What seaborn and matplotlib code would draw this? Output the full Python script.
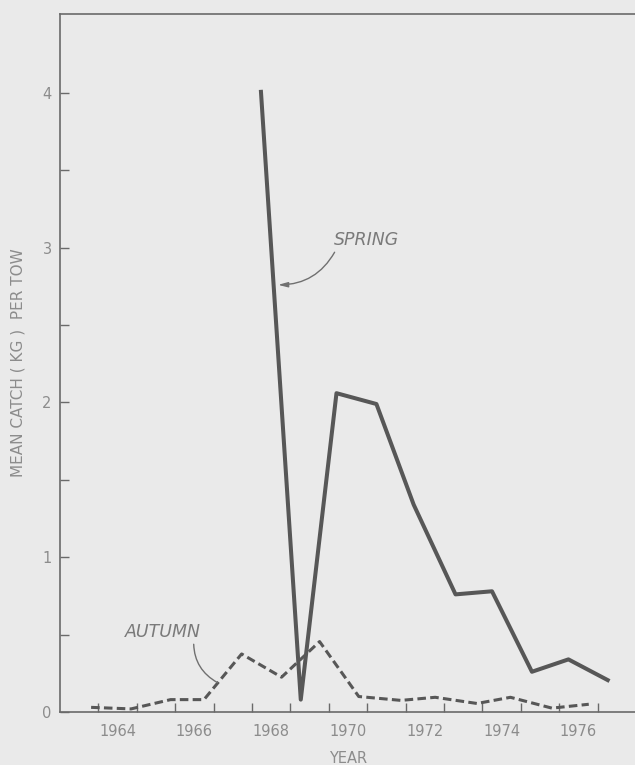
import matplotlib
matplotlib.use("Agg")
import matplotlib.pyplot as plt
import pandas as pd
import seaborn as sns

# Mean catch (kg) per tow, spring and autumn surveys
spring_time = [1968.23, 1969.27, 1970.20, 1971.24, 1972.21, 1973.30,
               1974.25, 1975.29, 1976.24, 1977.31]
spring_catch = [4.02, 0.08, 2.06, 1.99, 1.34, 0.76, 0.78, 0.26, 0.34, 0.20]

autumn_time = [1963.81, 1964.85, 1965.88, 1966.75, 1967.73, 1968.77, 1969.76,
               1970.78, 1971.88, 1972.77, 1973.86, 1974.73, 1975.81, 1976.77]
autumn_catch = [0.03, 0.02, 0.08, 0.08, 0.375, 0.225, 0.455,
                0.10, 0.075, 0.095, 0.055, 0.095, 0.025, 0.05]

year_labels = ["1964", "1966", "1968", "1970", "1972", "1974", "1976"]
year_bounds = list(range(1964, 1978))
catch_ticks = [0, 1, 2, 3, 4]
catch_minor = [0.5, 1.5, 2.5, 3.5]

BG = "#eaeaea"
INK = "#575757"
TEXT = "#8c8c8c"
SPINE = "#6a6a6a"

sns.set_theme(style="ticks")
plt.rcParams["font.family"] = ["DejaVu Sans"]

spring = pd.DataFrame({"time": spring_time, "catch": spring_catch})
autumn = pd.DataFrame({"time": autumn_time, "catch": autumn_catch})

fig = plt.figure(figsize=(6.35, 7.65), dpi=100, facecolor=BG)
ax = fig.add_axes([60 / 635, 1 - 712 / 765, 576 / 635, 698 / 765])
ax.set_facecolor(BG)

sns.lineplot(data=spring, x="time", y="catch", ax=ax, color=INK,
             linewidth=2.9, solid_joinstyle="round", solid_capstyle="butt")
sns.lineplot(data=autumn, x="time", y="catch", ax=ax, color=INK,
             linewidth=2.2, linestyle=(0, (2.8, 1.4)), dash_capstyle="butt")

ax.set_xlim(1963, 1978)
ax.set_ylim(0, 4.51)

# year labels centred in each year, tick marks on year boundaries
label_pos = [int(y) + 0.5 for y in year_labels]
ax.set_xticks(label_pos)
ax.set_xticklabels(year_labels)
ax.set_xticks(year_bounds, minor=True)
ax.tick_params(axis="x", which="major", length=0, pad=9,
               labelsize=10.5, labelcolor=TEXT)
ax.tick_params(axis="x", which="minor", direction="in", length=6.5,
               width=1.0, color=SPINE)

ax.set_yticks(catch_ticks)
ax.set_yticklabels([str(v) for v in catch_ticks])
ax.set_yticks(catch_minor, minor=True)
ax.tick_params(axis="y", which="both", direction="in", length=6.5,
               width=1.0, color=SPINE, pad=6, labelsize=10.5,
               labelcolor=TEXT)

for side in ("left", "bottom", "top"):
    ax.spines[side].set_color(SPINE)
    ax.spines[side].set_linewidth(1.2)
ax.spines["right"].set_visible(False)

ax.set_xlabel("YEAR", fontsize=10.5, color=TEXT)
ax.set_ylabel("MEAN CATCH ( KG )  PER TOW", fontsize=11, color=TEXT)
ax.xaxis.set_label_coords(0.5, -0.067)
ax.xaxis.label.set_va("center")
ax.yaxis.set_label_coords(-0.073, 0.5)
ax.yaxis.label.set_va("center")

ax.annotate("SPRING", xy=(1968.68, 2.76), xytext=(1970.13, 3.05),
            fontsize=12.5, style="italic", color="#7a7a7a",
            ha="left", va="center",
            arrowprops=dict(arrowstyle="-|>,head_length=0.45,head_width=0.12",
                            color="#707070", linewidth=1.0,
                            shrinkA=0, shrinkB=0,
                            connectionstyle="arc3,rad=-0.3",
                            relpos=(0.04, 0.0)))
ax.annotate("AUTUMN", xy=(1967.1, 0.19), xytext=(1964.70, 0.517),
            fontsize=12.5, style="italic", color="#7a7a7a",
            ha="left", va="center",
            arrowprops=dict(arrowstyle="-", color="#707070", linewidth=1.0,
                            shrinkA=0, shrinkB=0,
                            connectionstyle="arc3,rad=0.3",
                            relpos=(0.9, 0.0)))

fig.savefig("out.png", dpi=100, facecolor=BG)
